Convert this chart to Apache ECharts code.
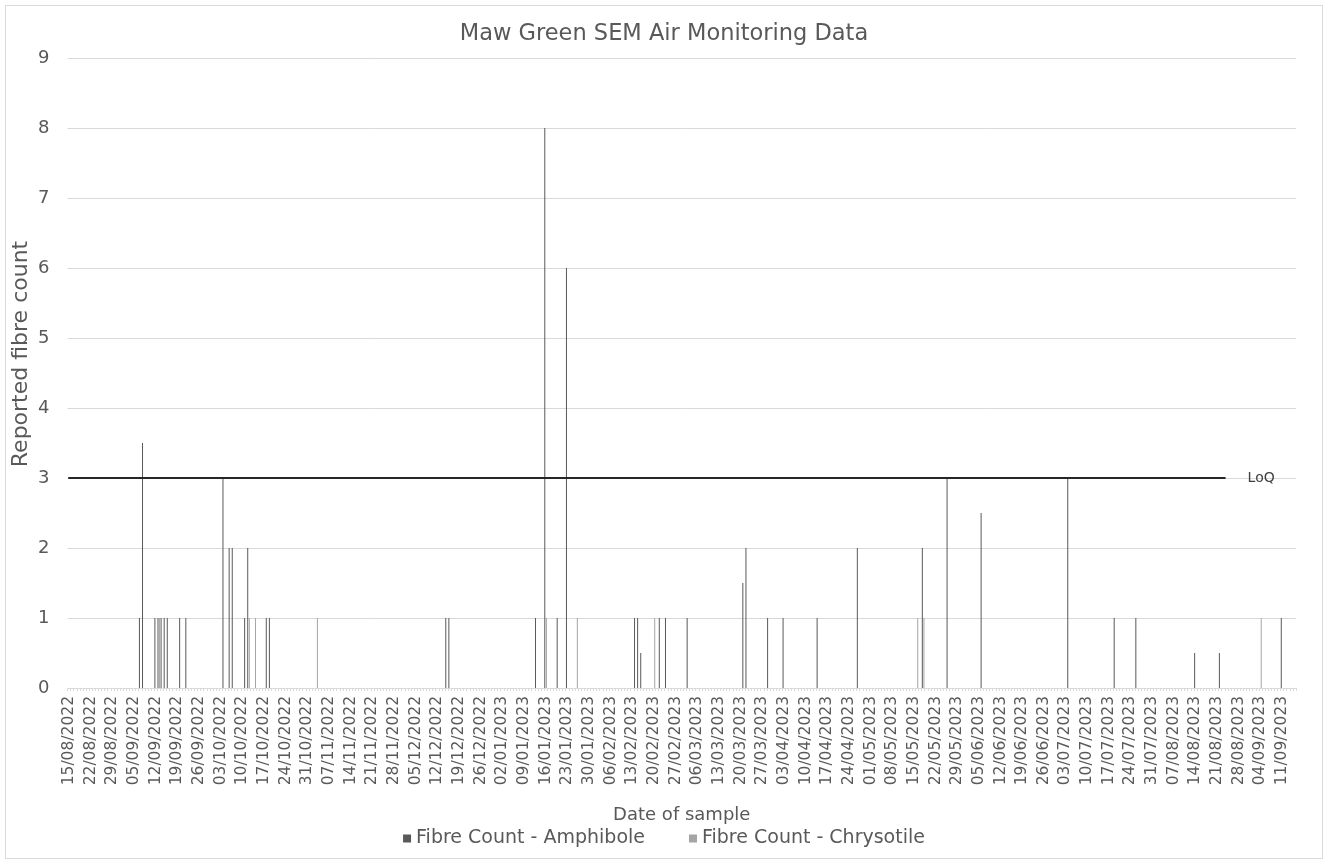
<!DOCTYPE html>
<html>
<head>
<meta charset="utf-8">
<title>Maw Green SEM Air Monitoring Data</title>
<script src="https://cdn.jsdelivr.net/npm/echarts@6/dist/echarts.min.js"></script>
<style>
  html, body { margin: 0; padding: 0; background: #fff; }
  #chart { width: 1328px; height: 864px; }
</style>
</head>
<body>
<div id="chart"></div>
<script>
// first and last day shown on the date axis (one category per day)
const firstDay = '2022-08-15'
const lastDay = '2023-09-15'

// samples
const amphiboleDates = [
  '07/09/2022', '08/09/2022', '12/09/2022', '13/09/2022', '14/09/2022', '15/09/2022',
  '16/09/2022', '20/09/2022', '22/09/2022', '04/10/2022', '06/10/2022', '07/10/2022',
  '11/10/2022', '12/10/2022', '18/10/2022', '19/10/2022', '15/12/2022', '16/12/2022',
  '13/01/2023', '16/01/2023', '20/01/2023', '23/01/2023', '14/02/2023', '15/02/2023',
  '16/02/2023', '22/02/2023', '24/02/2023', '03/03/2023', '21/03/2023', '22/03/2023',
  '29/03/2023', '03/04/2023', '14/04/2023', '27/04/2023', '18/05/2023', '26/05/2023',
  '06/06/2023', '04/07/2023', '19/07/2023', '26/07/2023', '14/08/2023', '22/08/2023',
  '11/09/2023'
]
const amphiboleCounts = [
  1, 3.5, 1, 1, 1, 1,
  1, 1, 1, 3, 2, 2,
  1, 2, 1, 1, 1, 1,
  1, 8, 1, 6, 1, 1,
  0.5, 1, 1, 1, 1.5, 2,
  1, 1, 1, 2, 2, 3,
  2.5, 3, 1, 1, 0.5, 0.5,
  1
]

const chrysotileDates = [
  '13/09/2022', '12/10/2022', '14/10/2022', '03/11/2022', '16/01/2023',
  '26/01/2023', '20/02/2023', '16/05/2023', '18/05/2023', '04/09/2023'
]
const chrysotileCounts = [1, 1, 1, 1, 1, 1, 1, 1, 1, 1]

// limit of quantification line
const loqValue = 3
const loqFrom = '15/08/2022'
const loqTo = '24/08/2023'

function pad(n) {
  return n < 10 ? '0' + n : '' + n
}

function buildDays(from, to) {
  const days = []
  const d = new Date(from + 'T00:00:00Z')
  const end = new Date(to + 'T00:00:00Z')
  while (d <= end) {
    days.push(pad(d.getUTCDate()) + '/' + pad(d.getUTCMonth() + 1) + '/' + d.getUTCFullYear())
    d.setUTCDate(d.getUTCDate() + 1)
  }
  return days
}

function spread(days, dates, counts) {
  const out = days.map(() => null)
  dates.forEach((date, i) => {
    const idx = days.indexOf(date)
    if (idx >= 0) out[idx] = counts[i]
  })
  return out
}

const days = buildDays(firstDay, lastDay)
const textColor = '#595959'
const fontFamily = '"DejaVu Sans", sans-serif'

const chart = echarts.init(document.getElementById('chart'), null, { renderer: 'canvas' })

chart.setOption({
  animation: false,
  backgroundColor: '#fff',
  textStyle: { fontFamily: fontFamily },
  title: {
    text: 'Maw Green SEM Air Monitoring Data',
    left: 'center',
    top: 18,
    textStyle: { color: textColor, fontSize: 22.5, fontWeight: 'normal', fontFamily: fontFamily }
  },
  grid: { left: 67.5, right: 32, top: 58, bottom: 176 },
  legend: {
    bottom: 11,
    left: 'center',
    icon: 'rect',
    itemWidth: 8,
    itemHeight: 8,
    itemGap: 44,
    textStyle: { color: textColor, fontSize: 19, fontFamily: fontFamily },
    data: ['Fibre Count - Amphibole', 'Fibre Count - Chrysotile']
  },
  xAxis: {
    type: 'category',
    data: days,
    boundaryGap: true,
    name: 'Date of sample',
    nameLocation: 'middle',
    nameGap: 118,
    nameTextStyle: { color: textColor, fontSize: 18, fontFamily: fontFamily },
    axisLine: { lineStyle: { color: '#d9d9d9', width: 1 } },
    axisTick: { show: true, interval: 0, length: 3, lineStyle: { color: '#d9d9d9' } },
    axisLabel: {
      interval: 6,
      rotate: 90,
      margin: 8,
      color: textColor,
      fontSize: 15.5,
      fontFamily: fontFamily
    },
    splitLine: { show: false }
  },
  yAxis: {
    type: 'value',
    min: 0,
    max: 9,
    interval: 1,
    axisLine: { show: false },
    axisTick: { show: false },
    axisLabel: { color: textColor, fontSize: 18, margin: 18, fontFamily: fontFamily },
    splitLine: { lineStyle: { color: '#d9d9d9', width: 1 } }
  },
  graphic: [
    {
      type: 'rect',
      shape: { x: 5.5, y: 5.5, width: 1317, height: 853 },
      style: { fill: 'none', stroke: '#d9d9d9', lineWidth: 1 },
      silent: true
    },
    {
      type: 'text',
      x: 21,
      y: 354,
      rotation: Math.PI / 2,
      style: {
        text: 'Reported fibre count',
        fill: textColor,
        fontSize: 22,
        fontFamily: fontFamily,
        align: 'center',
        verticalAlign: 'middle'
      },
      silent: true
    }
  ],
  series: [
    {
      name: 'Fibre Count - Amphibole',
      type: 'bar',
      data: spread(days, amphiboleDates, amphiboleCounts),
      barWidth: 1,
      barGap: '60%',
      itemStyle: { color: '#595959' },
      markLine: {
        silent: true,
        symbol: 'none',
        lineStyle: { color: '#262626', width: 2, type: 'solid' },
        label: {
          show: true,
          position: 'end',
          distance: 22,
          formatter: 'LoQ',
          color: '#404040',
          fontSize: 14,
          fontFamily: fontFamily
        },
        data: [[
          { coord: [loqFrom, loqValue] },
          { coord: [loqTo, loqValue] }
        ]]
      }
    },
    {
      name: 'Fibre Count - Chrysotile',
      type: 'bar',
      data: spread(days, chrysotileDates, chrysotileCounts),
      barWidth: 1,
      barGap: '60%',
      itemStyle: { color: '#a5a5a5' }
    }
  ]
})
</script>
</body>
</html>
